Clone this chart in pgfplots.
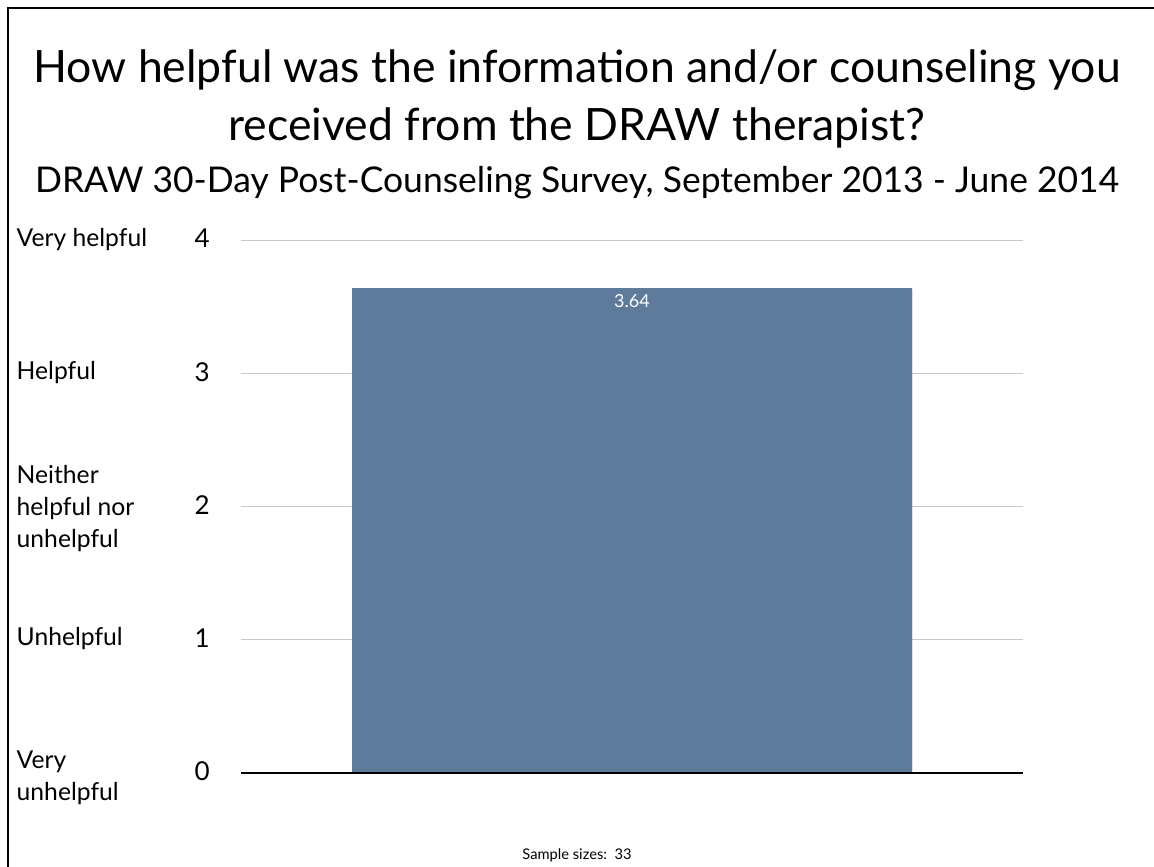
\documentclass[border=0pt]{standalone}
\usepackage{fontspec}
\setmainfont{Lato}
\usepackage{pgfplots}
\pgfplotsset{compat=1.18}
\usetikzlibrary{shadows}
\definecolor{barblue}{HTML}{5E7B9C}
\definecolor{gridgray}{HTML}{C8C8C8}
\begin{document}
\begin{tikzpicture}[x=0.75pt,y=0.75pt]
% page in px units (1 px = 0.75pt), y upwards
\path[use as bounding box, fill=white] (0,0) rectangle (1154,867);
\draw[line width=1.5pt] (8,0) -- (8,859) -- (1154,859);

\node[font=\fontsize{33.4}{43.5}\selectfont, align=center] at (577,768)
  {How helpful was the information and/or counseling you\\received from the DRAW therapist?};
\node[font=\fontsize{26.6}{30}\selectfont] at (577,684)
  {DRAW 30-Day Post-Counseling Survey, September 2013 - June 2014};

\begin{axis}[
  at={(180.75pt,70.5pt)}, anchor=south west,
  scale only axis, width=586.5pt, height=399.75pt,
  xmin=0, xmax=1, ymin=0, ymax=4,
  axis lines=left,
  axis line style={draw=none},
  ytick={0,1,2,3,4},
  xtick=\empty,
  ymajorgrids, grid style={gridgray, line width=0.6pt},
  major tick length=0pt,
  yticklabel style={font=\fontsize{19.5}{22}\selectfont, xshift=-20pt, yshift=1pt},
  /pgf/number format/assume math mode=true,
  clip=false,
]
\addplot[ybar, bar width=420pt, fill=barblue, draw=none,
  drop shadow={shadow xshift=1pt, shadow yshift=-1pt, opacity=0.25},
  nodes near coords,
  every node near coord/.style={anchor=north, yshift=-1pt, text=white,
    font=\fontsize{13.5}{15}\selectfont,
    /pgf/number format/fixed, /pgf/number format/precision=2,
    /pgf/number format/fixed zerofill},
  ] coordinates {(0.5,3.64)};
\draw[black, line width=0.9pt] (axis cs:0,0) -- (axis cs:1,0);
\end{axis}

\begin{scope}[every node/.style={anchor=west, align=left,
    font=\fontsize{18.5}{24}\selectfont}]
\node at (12,627) {Very helpful};
\node at (12,494) {Helpful};
\node at (12,358) {Neither\\helpful nor\\unhelpful};
\node at (12,228) {Unhelpful};
\node at (12,89) {Very\\unhelpful};
\end{scope}

\node[font=\fontsize{11}{13}\selectfont] at (577,12) {Sample sizes:\ \ 33};
\end{tikzpicture}
\end{document}
